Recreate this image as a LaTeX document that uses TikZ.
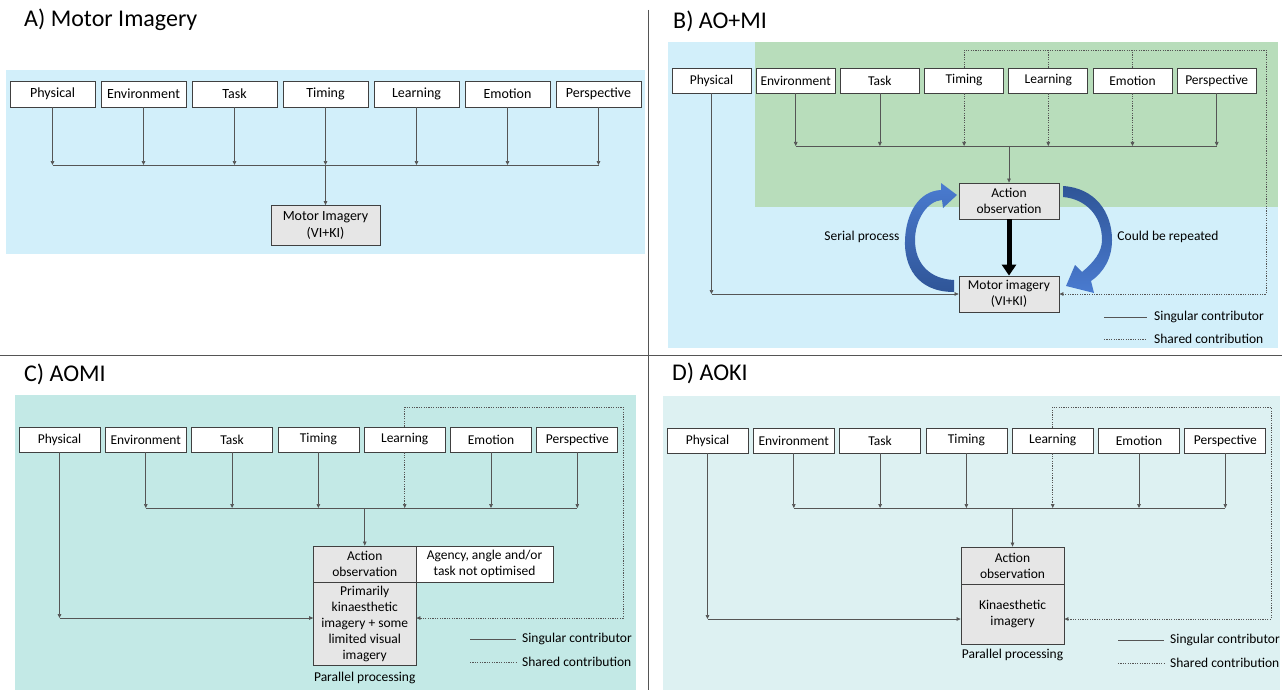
\documentclass[tikz,border=0pt]{standalone}
\usepackage{fontspec}
\setmainfont{Carlito}
\usetikzlibrary{arrows.meta,calc}
\definecolor{bgblue}{HTML}{D2EFFA}
\definecolor{bggreen}{HTML}{B8DDBB}
\definecolor{bgteal}{HTML}{C3E9E6}
\definecolor{bgpale}{HTML}{DDF1F2}
\definecolor{boxgray}{HTML}{E6E6E6}
\definecolor{linegray}{HTML}{555555}
\definecolor{arrblue}{HTML}{4A7BD0}
\definecolor{arrdark}{HTML}{2F5597}
\begin{document}
\begin{tikzpicture}[x=1pt,y=-1pt,
  fbox/.style={draw=black!75, line width=0.8pt, fill=white, inner sep=0pt, minimum height=25pt, font=\fontsize{13.5}{16}\selectfont},
  gbox/.style={draw=black!75, line width=0.8pt, fill=boxgray, inner sep=0pt, align=center, font=\fontsize{13.5}{16}\selectfont},
  conn/.style={draw=linegray, line width=0.7pt},
  arr/.style={conn, -{Triangle[length=4pt,width=3.6pt]}},
  dots/.style={dash pattern=on 1.2pt off 1.2pt},
  ptitle/.style={anchor=west, font=\fontsize{24}{28}\selectfont, inner sep=0pt},
  lbl/.style={font=\fontsize{13.5}{16}\selectfont, inner sep=0pt},
  leg/.style={font=\fontsize{13.5}{16}\selectfont, inner sep=0pt, anchor=west},
]
\useasboundingbox (0,0) rectangle (1282,690);

% backgrounds
\fill[bgblue] (6,70) rectangle (645,254);
\fill[bgblue] (668,42) rectangle (1278,348);
\fill[bggreen] (755,42) rectangle (1278,207);
\fill[bgteal] (15,395) rectangle (636,690);
\fill[bgpale] (663,396) rectangle (1280,690);

% dividers
\draw[linegray, line width=0.8pt] (648,10) -- (648,690);
\draw[linegray, line width=0.8pt] (0,355) -- (1282,355);

% titles
\node[ptitle] (ta) at (24,20) {A) Motor Imagery};
\node[ptitle] (tb) at (673,21) {B) AO+MI};
\node[ptitle] (tc) at (24,374) {C) AOMI};
\node[ptitle] (td) at (672,373) {D) AOKI};

% ================= Panel A =================
\foreach \t [count=\i] in {Physical,Environment,Task,Timing,Learning,Emotion,Perspective}
  \node[fbox, minimum width=85pt, minimum height=26pt, font=\fontsize{14}{16}\selectfont] (a\i) at ({52.5+91*(\i-1)},94) {\t};
\coordinate (busA) at (0,165);
\foreach \i in {1,...,7} \draw[arr] (a\i.south) -- (a\i.south |- busA);
\draw[conn] (a1.south |- busA) -- (a7.south |- busA);
\node[gbox, minimum width=109pt, minimum height=40pt, font=\fontsize{14}{16.5}\selectfont] (mia) at (325.5,225.5) {Motor Imagery\\(VI+KI)};
\draw[arr] (a4.south |- busA) -- (mia.north);

% ================= Panel B =================
\foreach \t [count=\i] in {Physical,Environment,Task,Timing,Learning,Emotion,Perspective}
  \node[fbox, minimum width=79pt] (b\i) at ({711.5+84.2*(\i-1)},80.5) {\t};
\coordinate (busB) at (0,146);
\coordinate (topB) at (0,50);
\coordinate (rB) at (1266,0);
\foreach \i in {2,3,7} \draw[arr] (b\i.south) -- (b\i.south |- busB);
\foreach \i in {4,5,6} \draw[arr,dots] (b\i.south) -- (b\i.south |- busB);
\draw[conn] (b2.south |- busB) -- (b7.south |- busB);
\node[gbox, minimum width=100pt, minimum height=36pt] (aob) at (1009,201) {Action\\observation};
\node[gbox, minimum width=100pt, minimum height=36pt] (mib) at (1009,294) {Motor imagery\\(VI+KI)};
\draw[arr] (aob.north |- busB) -- (aob.north);
\draw[black, line width=5pt, -{Triangle[length=11pt,width=14pt]}] (aob.south) -- (mib.north);
\coordinate (cb) at (b1.south |- mib.west);
\draw[arr] (b1.south) -- (cb);
\draw[arr] (cb) -- (mib.west);
\draw[conn,dots] (b5.north) -- (b5.north |- topB);
\draw[conn,dots] (b6.north) -- (b6.north |- topB);
\draw[arr,dots] (b4.north) -- (b4.north |- topB) -- (rB |- topB) -- (rB |- mib.east) -- (mib.east);
% blue curved arrows
\shade[top color=arrblue, bottom color=arrdark]
  (954,292) .. controls (916,292) and (904,265) .. (905,240)
  .. controls (906,213) and (919,191) .. (941,190)
  -- (941,183) -- (957,195) -- (943,208) -- (942,200)
  .. controls (927,201) and (915,220) .. (915,240)
  .. controls (915,264) and (930,279) .. (954,280) -- cycle;
\shade[top color=arrdark, bottom color=arrblue]
  (1063,186) .. controls (1095,188) and (1112,212) .. (1112,240)
  .. controls (1112,258) and (1104,272) .. (1091,281)
  -- (1094,293) -- (1066,286) -- (1075,265) -- (1082,272)
  .. controls (1094,262) and (1102,252) .. (1102,240)
  .. controls (1102,216) and (1086,199) .. (1063,197) -- cycle;
\node[lbl] (serial) at (862,237) {Serial process};
\node[lbl] (repeat) at (1168,237) {Could be repeated};
% legend B
\coordinate (lb1) at (1104,317);
\coordinate (lb2) at (1147,317);
\coordinate (lb3) at (1104,339);
\coordinate (lb4) at (1147,339);
\draw[conn] (lb1) -- (lb2);
\draw[conn,dots] (lb3) -- (lb4);
\node[leg] (sgB) at (1154,317) {Singular contributor};
\node[leg] (shB) at (1154,339) {Shared contribution};

% ================= Panel C =================
\foreach \t [count=\i] in {Physical,Environment,Task,Timing,Learning,Emotion,Perspective}
  \node[fbox, minimum width=81pt] (c\i) at ({59.5+86.3*(\i-1)},439.5) {\t};
\coordinate (busC) at (0,508);
\coordinate (topC) at (0,407);
\coordinate (rC) at (623,0);
\coordinate (yC) at (0,618);
\foreach \i in {2,3,4,6,7} \draw[arr] (c\i.south) -- (c\i.south |- busC);
\draw[arr,dots] (c5.south) -- (c5.south |- busC);
\draw[conn] (c2.south |- busC) -- (c7.south |- busC);
\node[gbox, minimum width=102.5pt, minimum height=36pt] (aoc) at (364.75,564) {Action\\observation};
\node[gbox, minimum width=102.5pt, minimum height=83pt] (lowc) at (364.75,623.5) {Primarily\\kinaesthetic\\imagery + some\\limited visual\\imagery};
\node[gbox, fill=white, minimum width=137pt, minimum height=36pt] (agc) at (484.5,564) {Agency, angle and/or\\task not optimised};
\draw[arr] (aoc.north |- busC) -- (aoc.north);
\coordinate (cc) at (c1.south |- yC);
\draw[arr] (c1.south) -- (cc);
\draw[arr] (cc) -- (lowc.west |- yC);
\draw[arr,dots] (c5.north) -- (c5.north |- topC) -- (rC |- topC) -- (rC |- yC) -- (lowc.east |- yC);
\node[lbl] (ppc) at (364.75,678) {Parallel processing};
\coordinate (lc1) at (470,639);
\coordinate (lc2) at (516,639);
\coordinate (lc3) at (470,662);
\coordinate (lc4) at (516,662);
\draw[conn] (lc1) -- (lc2);
\draw[conn,dots] (lc3) -- (lc4);
\node[leg] (sgC) at (522,639) {Singular contributor};
\node[leg] (shC) at (522,662) {Shared contribution};

% ================= Panel D =================
\foreach \t [count=\i] in {Physical,Environment,Task,Timing,Learning,Emotion,Perspective}
  \node[fbox, minimum width=81pt] (d\i) at ({707.5+86.3*(\i-1)},440.5) {\t};
\coordinate (busD) at (0,508);
\coordinate (topD) at (0,407);
\coordinate (rD) at (1271,0);
\coordinate (yD) at (0,619);
\foreach \i in {2,3,4,6,7} \draw[arr] (d\i.south) -- (d\i.south |- busD);
\draw[arr,dots] (d5.south) -- (d5.south |- busD);
\draw[conn] (d2.south |- busD) -- (d7.south |- busD);
\node[gbox, minimum width=103pt, minimum height=37pt] (aod) at (1012.5,565.5) {Action\\observation};
\node[gbox, minimum width=103pt, minimum height=60pt] (lowd) at (1012.5,614) {Kinaesthetic\\imagery};
\draw[arr] (aod.north |- busD) -- (aod.north);
\coordinate (cd) at (d1.south |- yD);
\draw[arr] (d1.south) -- (cd);
\draw[arr] (cd) -- (lowd.west |- yD);
\draw[arr,dots] (d5.north) -- (d5.north |- topD) -- (rD |- topD) -- (rD |- yD) -- (lowd.east |- yD);
\node[lbl] (ppd) at (1012.5,655) {Parallel processing};
\coordinate (ld1) at (1118,640);
\coordinate (ld2) at (1164,640);
\coordinate (ld3) at (1118,663);
\coordinate (ld4) at (1164,663);
\draw[conn] (ld1) -- (ld2);
\draw[conn,dots] (ld3) -- (ld4);
\node[leg] (sgD) at (1170,640) {Singular contributor};
\node[leg] (shD) at (1170,663) {Shared contribution};
\end{tikzpicture}
\end{document}
